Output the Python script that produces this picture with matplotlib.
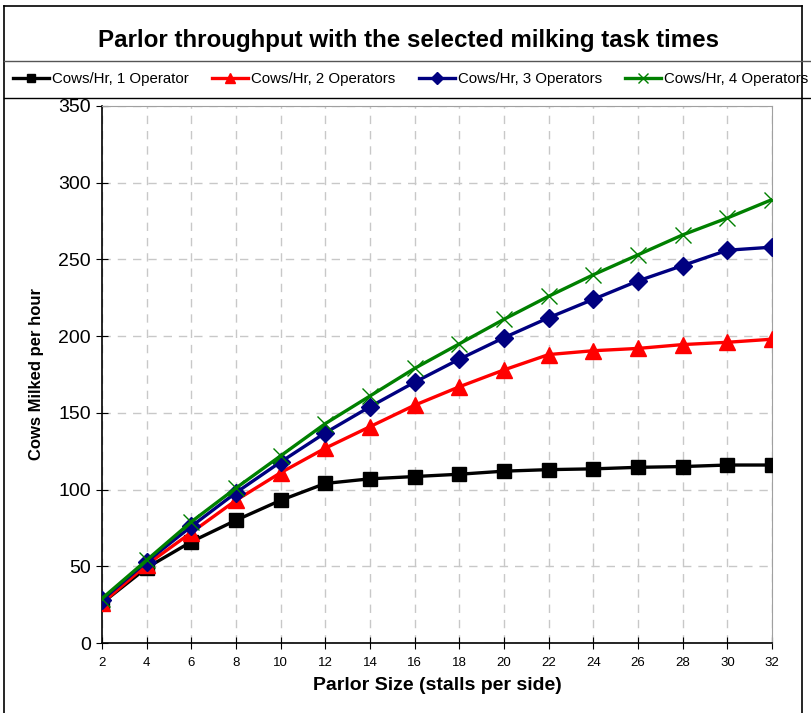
import numpy as np
import matplotlib.pyplot as plt
from matplotlib.lines import Line2D

plt.rcParams['font.family'] = ['Liberation Sans', 'DejaVu Sans']

# parlor size (stalls per side)
stalls = [2, 4, 6, 8, 10, 12, 14, 16, 18, 20, 22, 24, 26, 28, 30, 32]

# cows milked per hour
op1 = [26, 49, 66, 80, 93, 104, 107, 108.5, 110, 112, 113, 113.5, 114.5, 115, 116, 116]
op2 = [26, 51, 72, 93, 111, 127, 141, 155, 167, 178, 188, 190.5, 192, 194.5, 196, 198]
op3 = [28, 53, 76, 98, 118, 137, 154, 170, 185, 199, 212, 224, 236, 246, 256, 258]
op4 = [29, 54, 79, 101, 122, 143, 161, 179, 195, 211, 226, 240, 253, 266, 277, 289]

names = ["Cows/Hr, 1 Operator", "Cows/Hr, 2 Operators",
         "Cows/Hr, 3 Operators", "Cows/Hr, 4 Operators"]

W, H = 812, 713
fig = plt.figure(figsize=(W / 100, H / 100), dpi=100)
ax = fig.add_axes([102 / W, 1 - 643 / H, 670 / W, 537 / H])

ax.plot(stalls, op1, color="black", lw=2.4, marker="s", ms=10.5, label=names[0], zorder=3)
ax.plot(stalls, op2, color="#ff0000", lw=2.4, marker="^", ms=11.5, label=names[1], zorder=4)
ax.plot(stalls, op3, color="#000080", lw=2.4, marker="D", ms=9.5, label=names[2], zorder=5)
ax.plot(stalls, op4, color="#008000", lw=2.4, marker="x", ms=11, mew=1.0, label=names[3], zorder=6)

ax.set_xlim(2, 32)
ax.set_ylim(0, 350)
ax.set_xticks(stalls)
ax.set_yticks(range(0, 351, 50))
ax.grid(True, color="#c8c8c8", ls=(0, (6, 5)), lw=1)
ax.set_axisbelow(True)

for s in ["top", "right"]:
    ax.spines[s].set_color("#a0a0a0")
for s in ["left", "bottom"]:
    ax.spines[s].set_color("black")
    ax.spines[s].set_linewidth(1.2)

ax.tick_params(axis="y", direction="inout", length=8, labelsize=14, pad=4)
ax.tick_params(axis="x", direction="inout", length=8, labelsize=9.5, pad=6)
ax.set_xlabel("Parlor Size (stalls per side)", fontsize=14, fontweight="bold", labelpad=6)
ax.set_ylabel("Cows Milked per hour", fontsize=12, fontweight="bold", labelpad=10)

fig.text(408 / W, 1 - 40 / H, "Parlor throughput with the selected milking task times",
         ha="center", va="center", fontsize=17.4, fontweight="bold")

# outer border and legend box
fig.add_artist(Line2D([4 / W, 4 / W], [0, 1 - 6 / H], color="black", lw=1.2))
fig.add_artist(Line2D([802 / W, 802 / W], [0, 1 - 6 / H], color="black", lw=1.2))
fig.add_artist(Line2D([4 / W, 802 / W], [1 - 6 / H, 1 - 6 / H], color="black", lw=1.2))
fig.add_artist(Line2D([4 / W, 1], [1 - 61 / H, 1 - 61 / H], color="#555555", lw=1))
fig.add_artist(Line2D([4 / W, 1], [1 - 98 / H, 1 - 98 / H], color="black", lw=1))

handles, labels = ax.get_legend_handles_labels()
fig.legend(handles, labels, loc="center left", bbox_to_anchor=(13 / W, 1 - 79 / H),
           ncol=4, frameon=False, fontsize=10.8,
           handlelength=2.4, handletextpad=0.2, columnspacing=1.55,
           borderpad=0, borderaxespad=0, markerscale=0.6)

fig.savefig("out.png", dpi=100)
